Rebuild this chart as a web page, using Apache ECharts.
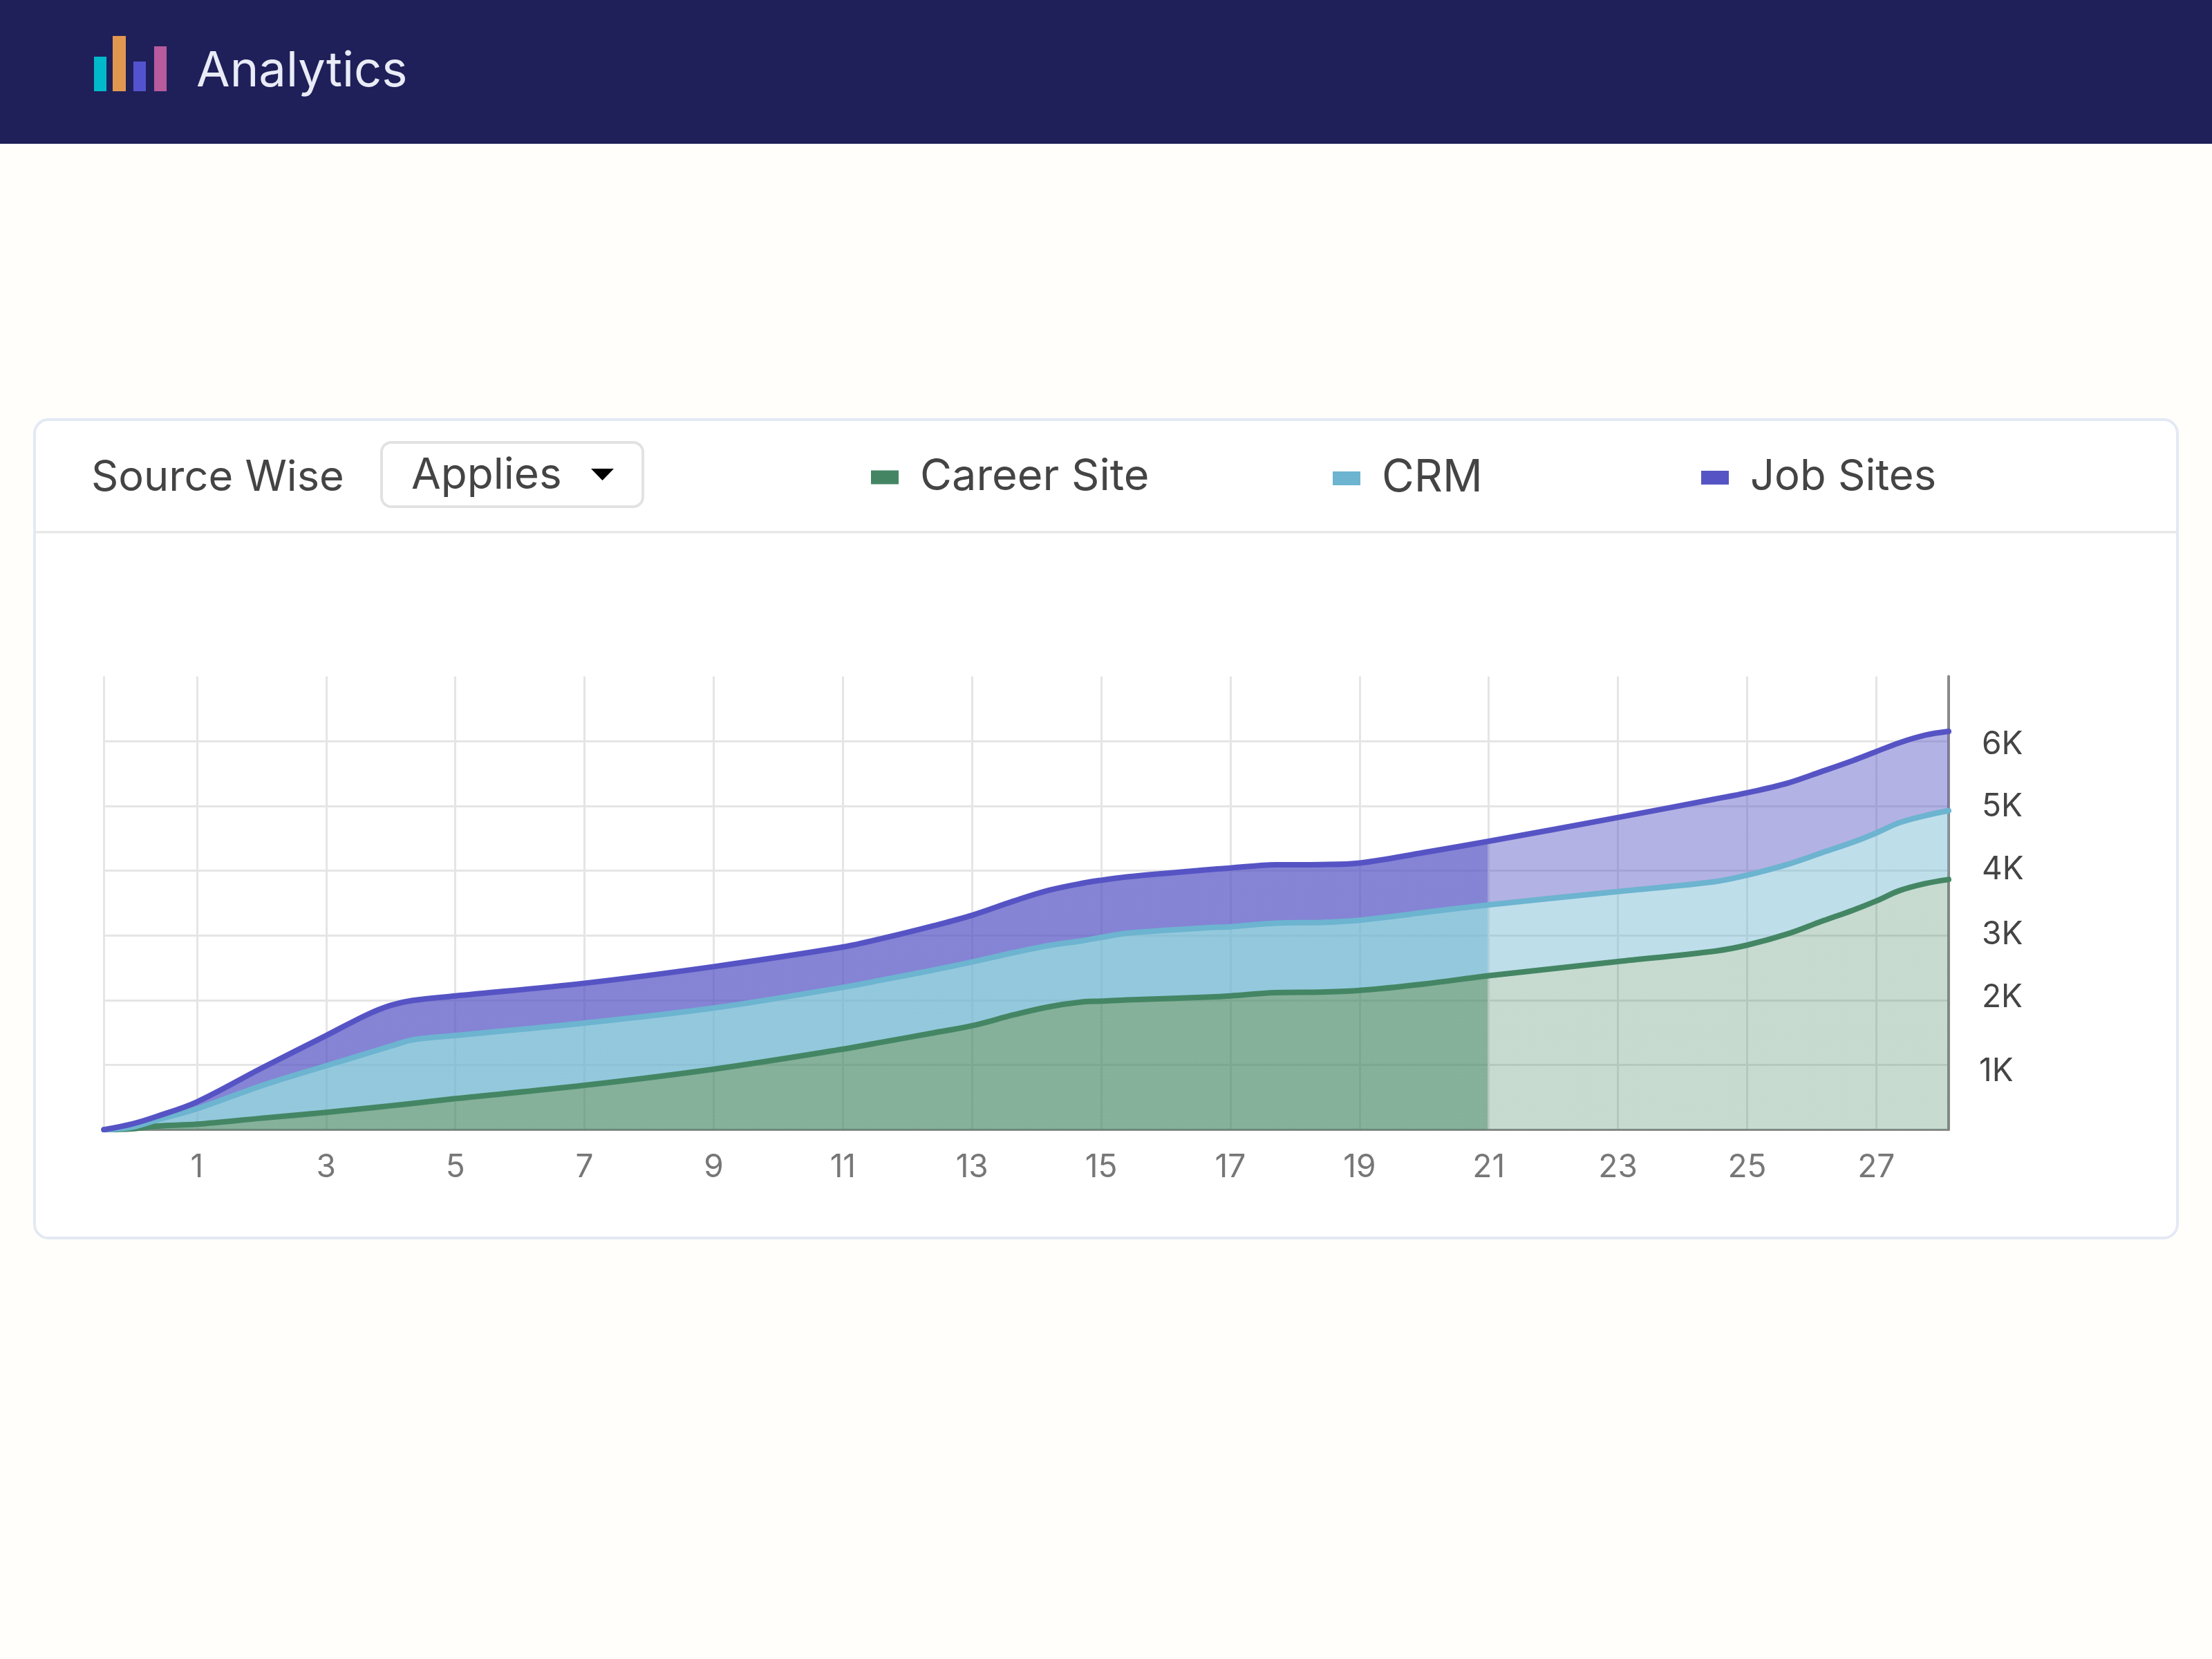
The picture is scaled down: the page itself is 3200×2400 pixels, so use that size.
<!DOCTYPE html>
<html>
<head>
<meta charset="utf-8">
<style>html,body{margin:0;padding:0;background:#fffefa}#c{width:3200px;height:2400px}</style>
<script src="https://cdn.jsdelivr.net/npm/echarts@6/dist/echarts.min.js"></script>
</head>
<body>
<div id="c"></div>
<script>
const days = [-0.44,0,0.38,1,2,3,3.63,4,4.34,5,7,9,11,11.65,12.4,13,13.65,14.18,14.72,15,15.4,16.7,17,17.7,18.4,19,20,21,23,24.5,25,25.64,26.14,26.64,27,27.36,27.75,28.12];
const careerSite = [0,15,57,85,178,267,332,370,407,480,686,935,1244,1360,1495,1605,1775,1895,1974,1985,2005,2049,2066,2116,2125,2150,2250,2377,2596,2757,2850,3027,3212,3390,3532,3692,3799,3863];
const crm = [0,25,93,238,502,721,846,920,981,974,961,943,954,960,970,985,960,947,946,985,1029,1073,1067,1074,1075,1085,1105,1095,1082,1073,1080,1073,1058,1050,1050,1049,1049,1063];
const jobSites = [0,50,56,107,270,466,596,630,608,612,615,640,622,643,683,721,797,853,888,882,871,897,908,900,894,883,925,981,1143,1275,1272,1255,1255,1260,1256,1234,1242,1224];
const xTicks = [1,3,5,7,9,11,13,15,17,19,21,23,25,27];
const yLabels = {1000:'1K',2000:'2K',3000:'3K',4000:'4K',5000:'5K',6000:'6K'};
const FONT = 'Inter';
const split = 0.75;

function band(rgb, a1, a2) {
  const c1 = `rgba(${rgb},${a1})`, c2 = `rgba(${rgb},${a2})`;
  return {type:'linear',x:0,y:0,x2:1,y2:0,colorStops:[
    {offset:0,color:c1},{offset:split,color:c1},{offset:split,color:c2},{offset:1,color:c2}]};
}
function series(name, values, color, rgb, a1, a2) {
  return {name, type:'line', stack:'all', smooth:0.35, showSymbol:false, symbol:'none',
    encode:{x:1,y:0},
    data: values.map((v,i)=>[v,days[i]]),
    itemStyle:{color},
    lineStyle:{color,width:8,cap:'round',join:'round'},
    areaStyle:{color:band(rgb,a1,a2),opacity:1}};
}
function legendItem(name,color,left,top,size){
  return {left,top,orient:'horizontal',icon:'rect',itemWidth:40,itemHeight:20,
    selectedMode:false,padding:0,
    data:[{name,itemStyle:{color},icon:'rect'}],
    textStyle:{fontFamily:FONT,fontSize:size,color:'#444',padding:[0,0,0,26],lineHeight:62,height:62,verticalAlign:'middle'}};
}
function txt(x,y,text,size,fill){
  return {type:'text',x,y,z:5,silent:true,style:{text,fontFamily:FONT,fontSize:size,fill,verticalAlign:'middle',align:'left'}};
}
function box(x,y,w,h,fill,z,extra){
  return Object.assign({type:'rect',z:z||-5,silent:true,shape:{x,y,width:w,height:h},style:{fill}},extra||{});
}
const yRich = {};
[[1000,19,0,0],[2000,0,7,4],[3000,0,3,4],[4000,0,2,4],[5000,3,0,4],[6000,10,0,4]].forEach(([v,t,b,l])=>{
  yRich['k'+v] = {fontFamily:FONT,fontSize:46,color:'#444444',padding:[t,0,b,l]};
});
const chart = echarts.init(document.getElementById('c'),null,{width:3200,height:2400,renderer:'canvas'});
chart.setOption({
  animation:false,
  backgroundColor:'#fffefa',
  grid:{left:150.4,right:381,top:978.4,bottom:765.7,containLabel:false},
  legend:[legendItem('Career Site','#448664',1260,659,63),legendItem('CRM','#6cb4d0',1928,660,64),legendItem('Job Sites','#5654c4',2461,660,61.5)],
  graphic:[
    box(0,0,3200,208,'#1f2059',-6),
    box(136,82,18,50,'#00bacc',-4),
    box(163,52,19,80,'#e29750',-4),
    box(193,89,18,43,'#5453cf',-4),
    box(223,67,18,65,'#b85a9e',-4),
    txt(284,104,'Analytics',70.5,'#e9ebf7'),
    {type:'rect',z:-6,silent:true,shape:{x:50,y:607,width:3100,height:1184,r:20},style:{fill:'#ffffff',stroke:'#e3e9f4',lineWidth:4}},
    box(51,768,3098,3.5,'#e8e8e8',-5),
    txt(132,692,'Source Wise',61.3,'#444444'),
    {type:'rect',z:-4,silent:true,shape:{x:552,y:640,width:378,height:93,r:14},style:{fill:'#ffffff',stroke:'#e2e2e2',lineWidth:4}},
    txt(595,688,'Applies',62,'#444444'),
    {type:'polygon',z:-3,silent:true,shape:{points:[[855,678],[888,678],[871.5,695]]},style:{fill:'#000000'}}
  ],
  xAxis:{type:'value',min:-0.44,max:28.12,
    axisLine:{show:true,onZero:false,lineStyle:{color:'#8a8a8a',width:3}},
    axisTick:{show:false,customValues:[-0.44].concat(xTicks)},
    axisLabel:{customValues:xTicks,color:'#777777',fontFamily:FONT,fontSize:46,margin:32,formatter:v=>String(v)},
    splitLine:{show:true,lineStyle:{color:'#e5e5e5',width:3}}},
  yAxis:{type:'value',position:'right',min:0,max:7000,interval:1000,
    axisLine:{show:true,onZero:false,lineStyle:{color:'#8a8a8a',width:4}},
    axisTick:{show:false},
    splitLine:{show:true,showMaxLine:false,lineStyle:{color:'#e5e5e5',width:3}},
    axisLabel:{margin:44,align:'left',rich:yRich,
      formatter:v=>yLabels[v]?`{k${v}|${yLabels[v]}}`:''}},
  series:[
    series('Career Site',careerSite,'#448664','68,134,100',0.65,0.3),
    series('CRM',crm,'#6cb4d0','108,180,208',0.73,0.44),
    series('Job Sites',jobSites,'#5654c4','86,84,196',0.72,0.45)
  ]
});
</script>
</body>
</html>
